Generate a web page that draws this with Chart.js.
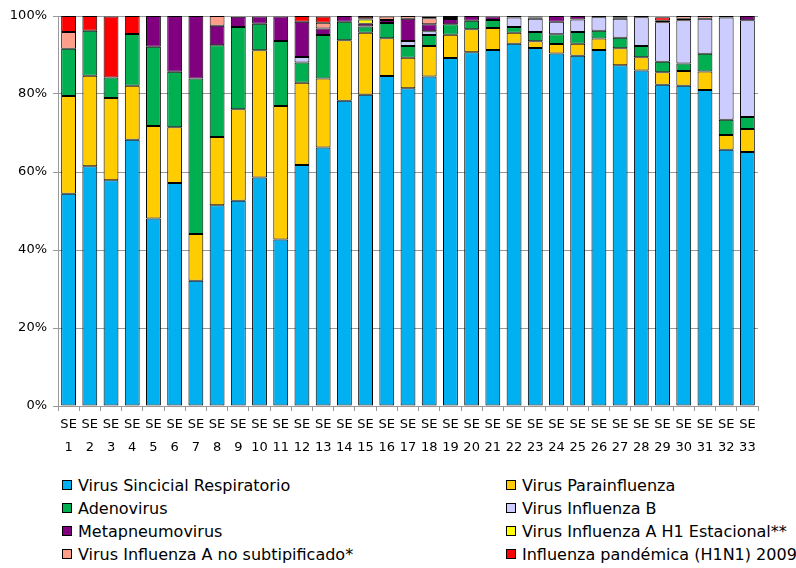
<!DOCTYPE html>
<html>
<head>
<meta charset="utf-8">
<script src="https://cdn.jsdelivr.net/npm/chart.js@4/dist/chart.umd.min.js"></script>
<style>
    body { margin: 0; background: #fff; width: 796px; height: 568px; overflow: hidden; position: relative; }
    #wrap { position: absolute; left: 0; top: 0; width: 796px; height: 470px; }
    #legend { position: absolute; left: 62px; top: 476px; width: 900px; font-family: "DejaVu Sans", Verdana, sans-serif; font-size: 16px; color: #000; }
    .item { position: absolute; white-space: nowrap; line-height: 20px; }
    .box { display: inline-block; width: 8px; height: 8px; border: 1px solid #000; margin-right: 6px; vertical-align: 1px; }
</style>
</head>
<body>
<div id="wrap"><canvas id="chart"></canvas></div>
<div id="legend"></div>
<script>
// weeks SE 1..33
let weeks = ["1","2","3","4","5","6","7","8","9","10","11","12","13","14","15","16","17","18","19","20","21","22","23","24","25","26","27","28","29","30","31","32","33"];
let yTicks = [0, 20, 40, 60, 80, 100];

let vsr = [54.4, 61.5, 57.9, 68.3, 48.1, 57.2, 32.1, 51.5, 52.6, 58.6, 42.7, 61.8, 66.3, 78.3, 79.8, 84.6, 81.5, 84.5, 89.2, 90.7, 91.3, 92.9, 91.8, 90.4, 89.8, 91.3, 87.4, 86.0, 82.4, 82.1, 81.0, 65.7, 65.1];
let parainfluenza = [25.1, 23.2, 21.1, 13.8, 23.7, 14.3, 12.0, 17.5, 23.5, 32.6, 34.2, 21.1, 17.7, 15.5, 15.9, 9.7, 7.8, 7.8, 6.0, 5.9, 5.6, 2.8, 1.7, 2.4, 3.1, 2.9, 4.3, 3.4, 3.2, 3.8, 4.8, 3.8, 5.9];
let adenovirus = [12.1, 11.5, 5.2, 13.3, 20.3, 14.2, 39.9, 23.5, 21.1, 6.8, 16.7, 5.2, 11.1, 4.7, 1.6, 3.9, 3.0, 2.8, 2.7, 2.2, 2.1, 1.5, 2.4, 2.5, 3.0, 2.0, 2.7, 2.9, 2.7, 1.9, 4.5, 3.9, 3.1];
let influenzaB = [0, 0, 0, 0, 0, 0, 0, 0, 0, 0, 0, 1.4, 0, 0, 0, 0, 1.3, 1.0, 0, 0, 0, 2.4, 3.4, 3.2, 3.2, 3.5, 4.9, 7.4, 10.1, 11.1, 9.0, 26.2, 24.8];
let metapneumo = [0, 0, 0, 0, 7.9, 14.3, 16.0, 5.0, 2.6, 1.9, 6.3, 9.0, 1.7, 1.5, 0.7, 0.8, 5.7, 1.8, 1.3, 1.2, 0.9, 0.4, 0.3, 1.5, 0.9, 0.3, 0.4, 0.3, 0, 0.4, 0, 0, 1.1];
let h1Estacional = [0, 0, 0, 0, 0, 0, 0, 0, 0, 0, 0, 0, 0, 0, 1.1, 0, 0, 0, 0, 0, 0, 0, 0, 0, 0, 0, 0, 0, 0, 0, 0, 0, 0];
let noSubtipificado = [4.3, 0, 0, 0, 0, 0, 0, 2.5, 0, 0, 0, 0, 1.5, 0, 0.3, 0.9, 0.7, 1.5, 0.3, 0, 0, 0, 0.3, 0, 0, 0, 0.3, 0, 0.4, 0.7, 0.7, 0.4, 0];
let pandemica = [4.1, 3.8, 15.7, 4.6, 0, 0, 0, 0, 0, 0, 0, 1.5, 1.6, 0, 0.6, 0, 0, 0.5, 0.5, 0, 0, 0, 0, 0, 0, 0, 0, 0, 0.9, 0, 0, 0, 0];

let seriesNames = ["Virus Sincicial Respiratorio", "Virus Parainfluenza", "Adenovirus", "Virus Influenza B",
    "Metapneumovirus", "Virus Influenza A H1 Estacional**", "Virus Influenza A no subtipificado*", "Influenza pandémica (H1N1) 2009"];
let seriesData = [vsr, parainfluenza, adenovirus, influenzaB, metapneumo, h1Estacional, noSubtipificado, pandemica];
let seriesColors = ["#00B0F0", "#FFCC00", "#00B050", "#CCCCFF", "#800080", "#FFFF00", "#FF9F8A", "#FF0000"];

const FONT = "'DejaVu Sans', Verdana, sans-serif";

function buildDatasets() {
    return seriesNames.map((name, i) => ({
        label: name,
        data: seriesData[i].map(v => v || null),
        backgroundColor: seriesColors[i],
        borderColor: "#000",
        borderWidth: 1,
        borderSkipped: false,
        barPercentage: 0.7,
        categoryPercentage: 1.0
    }));
}

function drawLegend() {
    // two columns, row-major like the original
    let legend = document.querySelector("#legend");
    seriesNames.forEach((name, i) => {
        let item = document.createElement("div");
        item.className = "item";
        item.style.left = (i % 2 === 0 ? 0 : 444) + "px";
        item.style.top = (Math.floor(i / 2) * 23) + "px";
        item.innerHTML = '<span class="box" style="background:' + seriesColors[i] + '"></span>' + name;
        legend.appendChild(item);
    });
}

(function () {
    let canvas = document.querySelector("#chart");
    canvas.width = 796;
    canvas.height = 470;

    new Chart(canvas, {
        type: "bar",
        data: {
            labels: weeks.map(w => ["SE", w]),
            datasets: buildDatasets()
        },
        options: {
            responsive: false,
            animation: false,
            layout: { padding: { top: 16, right: 38, left: 0, bottom: 0 } },
            plugins: {
                legend: { display: false },
                tooltip: { enabled: false }
            },
            scales: {
                x: {
                    stacked: true,
                    afterFit: (s) => { s.height = 64; },
                    grid: { drawOnChartArea: false, color: "#999", tickLength: 5, offset: true },
                    border: { color: "#999" },
                    ticks: { color: "#000", font: { family: FONT, size: 13, lineHeight: 1.7 }, padding: 3, maxRotation: 0, autoSkip: false }
                },
                y: {
                    stacked: true,
                    min: 0,
                    max: 100,
                    afterFit: (s) => { s.width = 58; },
                    afterBuildTicks: (s) => { s.ticks = yTicks.map(v => ({ value: v })); },
                    grid: { color: "#999", lineWidth: 1, tickLength: 5 },
                    border: { color: "#999" },
                    ticks: { color: "#000", font: { family: FONT, size: 13 }, padding: 6, callback: v => v + "%" }
                }
            }
        }
    });
    drawLegend();
})();
</script>
</body>
</html>
